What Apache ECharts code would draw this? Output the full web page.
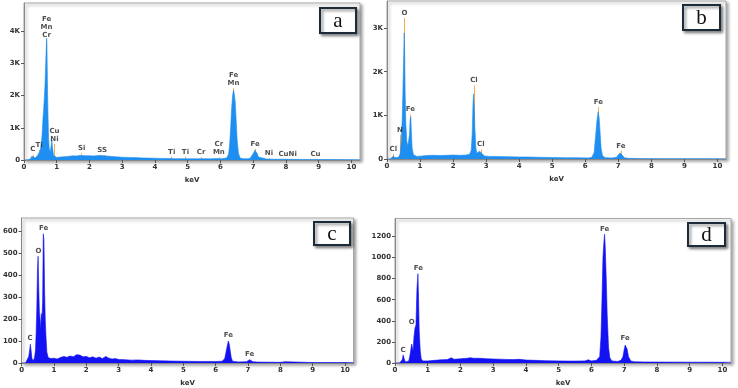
<!DOCTYPE html>
<html>
<head>
<meta charset="utf-8">
<script src="https://cdn.jsdelivr.net/npm/echarts@6.0.0/dist/echarts.min.js"></script>
<style>
  html, body { margin: 0; padding: 0; background: #fff; }
  #chart { width: 738px; height: 388px; }
</style>
</head>
<body>
<div id="chart"></div>
<script>
// EDS spectra, [keV, counts]
const spectrumA = [
  [0,0],[0.1,0],[0.15,5],[0.2,40],[0.24,120],[0.27,160],[0.3,90],[0.34,60],[0.38,90],[0.42,150],
  [0.45,210],[0.48,260],[0.5,330],[0.53,480],[0.56,900],[0.58,1300],[0.6,1550],[0.62,1600],[0.64,2300],
  [0.66,2900],[0.68,3500],[0.69,3780],[0.7,3600],[0.71,2800],[0.72,2100],[0.73,1500],[0.75,700],
  [0.77,350],[0.8,250],[0.83,450],[0.85,620],[0.87,400],[0.9,150],[0.95,90],[1.0,80],[1.1,90],
  [1.2,100],[1.3,110],[1.4,120],[1.5,130],[1.6,125],[1.7,140],[1.74,180],[1.78,140],[1.9,130],
  [2.0,135],[2.1,125],[2.2,130],[2.3,140],[2.35,125],[2.45,130],[2.5,120],[2.6,115],[2.7,110],
  [2.8,100],[2.9,95],[3.0,85],[3.2,80],[3.4,75],[3.6,65],[3.8,60],[4.0,55],[4.2,50],[4.4,45],
  [4.6,42],[4.8,40],[5.0,38],[5.2,36],[5.4,40],[5.45,55],[5.5,38],[5.7,35],[5.9,45],[6.0,40],
  [6.1,45],[6.2,70],[6.25,200],[6.28,500],[6.31,1000],[6.34,1600],[6.37,2000],[6.4,2170],[6.42,2050],
  [6.45,1800],[6.48,1200],[6.51,600],[6.55,200],[6.6,60],[6.7,40],[6.8,35],[6.9,50],[6.95,100],
  [7.0,200],[7.05,300],[7.08,310],[7.12,200],[7.16,90],[7.22,40],[7.4,30],[7.6,25],[8.0,22],
  [8.5,18],[9.0,15],[9.5,12],[10.0,10],[10.26,8]
];
const spectrumB = [
  [0,0],[0.1,0],[0.15,20],[0.18,60],[0.2,70],[0.23,50],[0.27,30],[0.3,25],[0.35,40],[0.4,120],
  [0.43,400],[0.46,900],[0.48,1500],[0.5,2200],[0.52,2890],[0.53,2700],[0.55,1500],[0.57,800],
  [0.6,400],[0.63,300],[0.66,330],[0.68,550],[0.7,900],[0.72,970],[0.74,600],[0.76,250],[0.8,100],
  [0.85,70],[0.9,60],[1.0,65],[1.2,80],[1.4,85],[1.6,80],[1.8,85],[2.0,90],[2.2,85],[2.4,90],
  [2.5,110],[2.55,200],[2.58,600],[2.6,1200],[2.62,1490],[2.64,1200],[2.66,700],[2.69,250],
  [2.72,130],[2.76,140],[2.8,180],[2.84,190],[2.88,120],[2.95,70],[3.1,60],[3.4,55],[3.7,50],
  [4.0,48],[4.3,45],[4.6,40],[5.0,35],[5.4,30],[5.8,28],[6.1,25],[6.2,40],[6.27,150],[6.31,500],
  [6.35,850],[6.39,1080],[6.42,950],[6.45,600],[6.48,250],[6.52,80],[6.6,30],[6.8,25],[6.95,40],
  [7.0,90],[7.05,140],[7.08,145],[7.12,90],[7.18,30],[7.3,15],[7.6,10],[8,8],[9,6],[10,5],[10.26,5]
];
const spectrumC = [
  [0,0],[0.12,0],[0.18,5],[0.22,30],[0.25,60],[0.27,85],[0.29,60],[0.32,20],[0.36,10],[0.4,25],
  [0.43,60],[0.45,140],[0.47,250],[0.49,420],[0.51,485],[0.53,340],[0.55,230],[0.57,200],[0.59,150],
  [0.61,225],[0.63,200],[0.65,280],[0.67,587],[0.69,560],[0.71,335],[0.73,200],[0.75,130],[0.78,50],
  [0.82,25],[0.9,20],[1.0,22],[1.1,18],[1.2,25],[1.3,30],[1.4,26],[1.5,32],[1.6,28],[1.7,38],
  [1.75,30],[1.8,36],[1.9,28],[2.0,30],[2.1,24],[2.2,28],[2.3,22],[2.4,27],[2.5,20],[2.6,30],
  [2.65,25],[2.7,22],[2.8,18],[2.9,20],[3.0,16],[3.2,15],[3.4,13],[3.6,14],[3.8,12],[4.0,11],
  [4.3,10],[4.6,9],[5.0,8],[5.5,7],[6.0,7],[6.2,8],[6.28,20],[6.32,50],[6.36,80],[6.39,100],
  [6.42,85],[6.45,55],[6.48,25],[6.52,8],[6.7,5],[6.95,6],[7.0,12],[7.05,15],[7.1,12],[7.15,6],
  [7.3,4],[8.0,3],[8.15,6],[8.2,3],[9,2],[10,2],[10.26,2]
];
const spectrumD = [
  [0,0],[0.14,0],[0.18,5],[0.22,30],[0.25,77],[0.28,40],[0.32,10],[0.38,8],[0.42,20],[0.45,60],
  [0.48,120],[0.51,180],[0.53,150],[0.55,110],[0.58,250],[0.61,330],[0.64,360],[0.67,700],[0.7,846],
  [0.72,600],[0.74,300],[0.77,120],[0.8,40],[0.85,20],[0.9,18],[1.0,20],[1.2,25],[1.4,30],[1.6,32],
  [1.72,50],[1.8,35],[2.0,40],[2.2,45],[2.3,50],[2.4,45],[2.6,45],[2.8,40],[3.0,38],[3.2,36],
  [3.4,34],[3.6,32],[3.8,35],[4.0,28],[4.3,25],[4.6,22],[5.0,20],[5.4,18],[5.8,20],[5.9,30],
  [6.0,20],[6.15,25],[6.25,60],[6.29,250],[6.32,600],[6.35,1000],[6.38,1150],[6.4,1221],[6.42,1100],
  [6.45,800],[6.48,450],[6.52,150],[6.56,50],[6.62,20],[6.8,15],[6.9,25],[6.96,60],[7.0,130],
  [7.03,170],[7.06,175],[7.09,130],[7.13,60],[7.2,20],[7.3,12],[7.6,10],[8,9],[9,8],[10,7],[10.26,7]
];

// peak labels: [keV, counts at bottom of label, text]
const peaksA = [
  [0.27,165,'C'],[0.46,310,'Ti'],[0.69,3705,'Fe\nMn\nCr'],[0.93,497,'Cu\nNi'],[1.76,208,'Si'],
  [2.31,155,'S'],[2.46,155,'S'],[4.51,102,'Ti'],[4.93,102,'Ti'],[5.41,90,'Cr'],[5.95,84,'Cr\nMn'],
  [6.40,2227,'Fe\nMn'],[7.06,342,'Fe'],[7.48,53,'Ni'],[8.05,31,'CuNi'],[8.9,31,'Cu']
];
const peaksB = [
  [0.19,115,'Cl'],[0.39,550,'N'],[0.53,3234,'O'],[0.71,1016,'Fe'],[2.63,1681,'Cl'],
  [2.84,222,'Cl'],[6.40,1186,'Fe'],[7.08,190,'Fe']
];
const peaksC = [[0.26,89,'C'],[0.52,486,'O'],[0.68,590,'Fe'],[6.39,104,'Fe'],[7.05,18,'Fe']];
const peaksD = [[0.25,78,'C'],[0.51,339,'O'],[0.71,847,'Fe'],[6.40,1225,'Fe'],[7.03,185,'Fe']];

const xTicks = [0,1,2,3,4,5,6,7,8,9,10];
const yTicksA = [0,1000,2000,3000,4000];
const yTicksB = [0,1000,2000,3000];
const yTicksC = [0,100,200,300,400,500,600];
const yTicksD = [0,200,400,600,800,1000,1200];
const yMax = [4870, 3620, 659, 1370];
const panelLetters = ['a','b','c','d'];

const lightBlue = '#1e8ef0';
const deepBlue = '#1212f2';
const font = '"DejaVu Sans", Verdana, sans-serif';

const grids = [
  { left: 24, top: 3, width: 336, height: 157 },
  { left: 387, top: 1, width: 339, height: 158 },
  { left: 20.5, top: 218, width: 333, height: 148 },
  { left: 395, top: 218.5, width: 336, height: 148 }
].map(g => Object.assign(g, {
  show: true, backgroundColor: '#fff', borderColor: '#a8a8a8', borderWidth: 1,
  shadowColor: 'rgba(0,0,0,0.35)', shadowBlur: 3, shadowOffsetX: 2, shadowOffsetY: 2
}));

const kFmt = v => v === 0 ? '0' : (v / 1000) + 'K';
const yTicks = [yTicksA, yTicksB, yTicksC, yTicksD];
const yFmts = [kFmt, kFmt, v => String(v), v => String(v)];

const xAxes = grids.map((g, i) => ({
  type: 'value', gridIndex: i, min: 0, max: 10.26,
  name: 'keV', nameLocation: 'middle', nameGap: 17,
  nameTextStyle: { fontSize: 7, fontWeight: 'bold', color: '#333', fontFamily: font },
  axisLine: { show: true, lineStyle: { color: '#888', width: 1 } },
  axisTick: { show: true, length: 3, customValues: xTicks, lineStyle: { color: '#555' } },
  axisLabel: { customValues: xTicks, fontSize: 7, fontWeight: 'bold', color: '#333', margin: 4, fontFamily: font },
  splitLine: { show: false }
}));

const yAxes = grids.map((g, i) => ({
  type: 'value', gridIndex: i, min: 0, max: yMax[i],
  axisLine: { show: true, lineStyle: { color: '#888', width: 1 } },
  axisTick: { show: true, length: 3, customValues: yTicks[i], lineStyle: { color: '#555' } },
  axisLabel: { customValues: yTicks[i], formatter: yFmts[i], fontSize: 7, fontWeight: 'bold',
               color: '#333', margin: 4, fontFamily: font },
  splitLine: { show: false }
}));

const spectra = [spectrumA, spectrumB, spectrumC, spectrumD];
const peaks = [peaksA, peaksB, peaksC, peaksD];
const colors = [lightBlue, lightBlue, deepBlue, deepBlue];

const series = [];
spectra.forEach((data, i) => {
  // orange marker lines only on the first two spectra, drawn under the fill
  if (i < 2) {
    series.push({
      type: 'line', xAxisIndex: i, yAxisIndex: i, data: [], z: 1,
      markLine: {
        z: 1, silent: true, symbol: 'none', animation: false, label: { show: false },
        lineStyle: { color: '#f5a23a', width: 1, type: 'solid', opacity: 0.9 },
        data: peaks[i].map(p => [{ coord: [p[0], 0] }, { coord: [p[0], p[1]] }])
      }
    });
  }
  series.push({
    type: 'line', xAxisIndex: i, yAxisIndex: i, data: data,
    symbol: 'none', lineStyle: { color: colors[i], width: 0.6 },
    areaStyle: { color: colors[i], opacity: 1 }, z: 2
  });
  series.push({
    type: 'scatter', xAxisIndex: i, yAxisIndex: i, data: peaks[i],
    symbolSize: 0, z: 5, silent: true,
    label: {
      show: true, position: 'top', distance: 1, formatter: p => p.value[2],
      fontSize: 7, lineHeight: 8, fontWeight: 'bold', color: '#222', fontFamily: font
    }
  });
});

// letter boxes in the top right of each panel
const boxes = [
  { x: 319, y: 7, w: 36, h: 25 },
  { x: 682, y: 4, w: 37, h: 25 },
  { x: 313, y: 221, w: 36, h: 23 },
  { x: 687, y: 222, w: 37, h: 23 }
];
const graphic = boxes.map((b, i) => ({
  type: 'group', left: b.x, top: b.y, z: 10,
  children: [
    { type: 'rect', shape: { x: 0, y: 0, width: b.w, height: b.h },
      style: { fill: '#fff', stroke: '#1c2b3a', lineWidth: 2,
               shadowColor: 'rgba(0,0,0,0.45)', shadowBlur: 3, shadowOffsetX: 2, shadowOffsetY: 2 } },
    { type: 'text', x: b.w / 2, y: b.h / 2 + 1,
      style: { text: panelLetters[i], font: '21px "Liberation Serif", serif', fill: '#111',
               textAlign: 'center', textVerticalAlign: 'middle' } }
  ]
}));

const chart = echarts.init(document.getElementById('chart'));
chart.setOption({
  animation: false,
  backgroundColor: '#fff',
  grid: grids,
  xAxis: xAxes,
  yAxis: yAxes,
  series: series,
  graphic: graphic
});
</script>
</body>
</html>
